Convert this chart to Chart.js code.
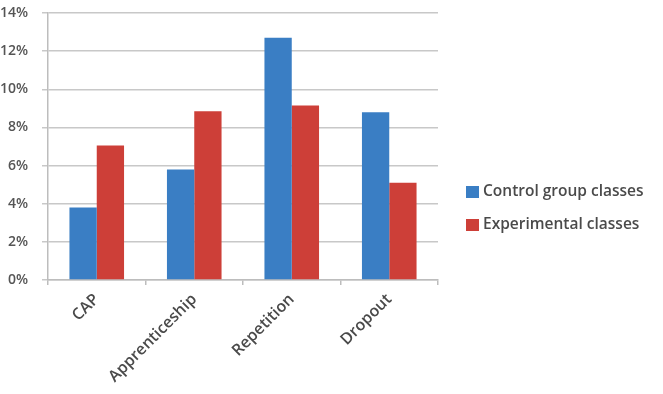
<!DOCTYPE html>
<html>
<head>
<meta charset="utf-8">
<script src="https://cdn.jsdelivr.net/npm/chart.js@4"></script>
<style>
  html, body { margin: 0; padding: 0; background: #fff; }
  #wrap { width: 663px; height: 394px; }
</style>
</head>
<body>
<div id="wrap"><canvas id="chart" width="663" height="394"></canvas></div>
<script>
// data
const categories = ['CAP', 'Apprenticeship', 'Repetition', 'Dropout'];
const controlValues = [3.8, 5.8, 12.7, 8.8];
const experimentalValues = [7.05, 8.85, 9.15, 5.1];
const seriesNames = ['Control group classes', 'Experimental classes'];
const yTicks = [0, 2, 4, 6, 8, 10, 12, 14];

const BLUE = '#3a7ec4';
const RED = '#cd3f38';
const FONT = '"Open Sans", sans-serif';

// legend drawn by hand so it sits where the reference puts it
const sideLegend = {
  id: 'sideLegend',
  afterDraw(chart) {
    const ctx = chart.ctx;
    ctx.save();
    ctx.font = '600 15.5px ' + FONT;
    ctx.textBaseline = 'middle';
    chart.data.datasets.forEach((ds, i) => {
      const y = 192 + i * 33;
      ctx.fillStyle = ds.backgroundColor;
      ctx.fillRect(466, y - 6, 13, 12);
      ctx.fillStyle = '#4a4a4a';
      ctx.fillText(ds.label, 483, y);
    });
    ctx.restore();
  }
};

new Chart(document.getElementById('chart').getContext('2d'), {
  type: 'bar',
  data: {
    labels: categories,
    datasets: [
      { label: seriesNames[0], data: controlValues, backgroundColor: BLUE },
      { label: seriesNames[1], data: experimentalValues, backgroundColor: RED }
    ]
  },
  options: {
    responsive: false,
    animation: false,
    categoryPercentage: 0.56,
    barPercentage: 1,
    layout: { padding: { top: 13, right: 225, left: 0, bottom: 0 } },
    plugins: { legend: { display: false }, tooltip: { enabled: false } },
    scales: {
      x: {
        grid: { offset: true, drawOnChartArea: false, color: '#bdbdbd', tickLength: 5, lineWidth: 1.5 },
        border: { color: '#bdbdbd', width: 1.5 },
        ticks: {
          minRotation: 45, maxRotation: 45, padding: 5,
          color: '#4a4a4a',
          font: { family: FONT, size: 16, weight: '600' }
        },
        afterFit(scale) {
          scale.height = 114;
          scale.paddingLeft = 0;
          scale.paddingRight = 0;
        }
      },
      y: {
        min: 0, max: 14,
        afterBuildTicks(scale) { scale.ticks = yTicks.map(v => ({ value: v })); },
        grid: { color: '#c8c8c8', lineWidth: 1.5, tickLength: 6 },
        border: { color: '#bdbdbd', width: 1.5 },
        ticks: {
          padding: 14,
          color: '#555',
          font: { family: FONT, size: 14, weight: '600' },
          callback: v => v + '%'
        },
        afterFit(scale) {
          scale.width = 48;
          scale.paddingTop = 0;
          scale.paddingBottom = 0;
        }
      }
    }
  },
  plugins: [sideLegend]
});
</script>
</body>
</html>
